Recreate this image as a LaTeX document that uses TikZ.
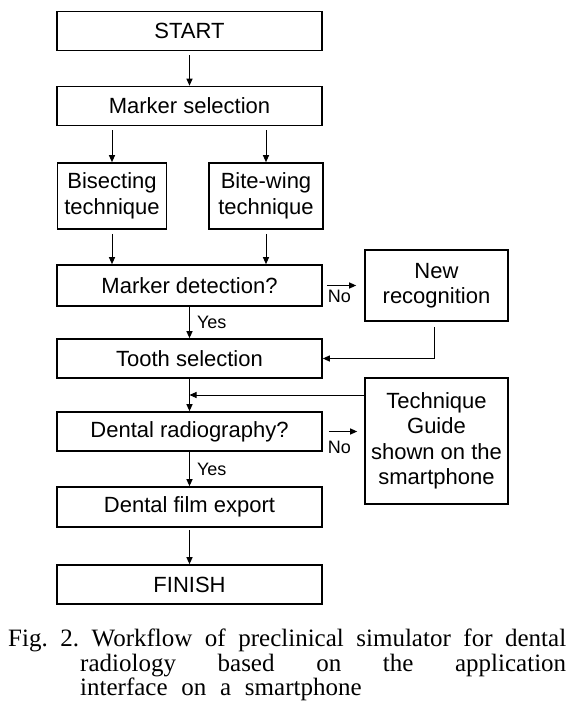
\documentclass[tikz,border=0pt]{standalone}
\usepackage{fontspec}
\setmainfont{Liberation Serif}
\setsansfont{Liberation Sans}
\usetikzlibrary{arrows.meta,calc}
\tikzset{
  stepbox/.style={draw, line width=1.6pt, inner sep=2pt, align=center,
    font=\sffamily\fontsize{22}{25.5}\selectfont},
  mainbox/.style={stepbox, minimum width=265pt, minimum height=39pt},
  flow/.style={line width=1pt, -{Triangle[length=7pt,width=6pt]}},
  answer/.style={font=\sffamily\fontsize{18}{20}\selectfont, inner sep=1pt}
}
\begin{document}
\begin{tikzpicture}[x=1pt, y=-1pt]
  \useasboundingbox (0,0) rectangle (587,712);
  % main column
  \node[mainbox] (start) at (189.5,31) {START};
  \node[mainbox] (msel) at (189.5,106) {Marker selection};
  \node[stepbox, minimum width=109pt, minimum height=66pt] (bisect) at (112,196)
    {Bisecting\\technique};
  \node[stepbox, minimum width=114pt, minimum height=66pt] (bitewing) at (266,196)
    {Bite-wing\\technique};
  \node[mainbox, minimum height=41pt] (mdet) at (189.5,285.5) {Marker detection?};
  \node[mainbox] (tooth) at (189.5,358.5) {Tooth selection};
  \node[mainbox] (radio) at (189.5,431.5) {Dental radiography?};
  \node[mainbox, minimum height=40pt] (export) at (189.5,507) {Dental film export};
  \node[mainbox] (finish) at (189.5,584.5) {FINISH};
  % side boxes
  \node[stepbox, minimum width=143pt, minimum height=71pt] (newrec) at (436.5,285.5)
    {New\\recognition};
  \node[stepbox, minimum width=143pt, minimum height=126pt] (guide) at (436.5,441)
    {Technique\\Guide\\shown on the\\smartphone};
  \coordinate (merge) at ($(tooth.south)!0.5!(radio.north)$);

  % connectors
  \draw[flow, shorten <=4pt] (start) -- (msel);
  \draw[flow, shorten <=4pt] (msel.south -| bisect) -- (bisect);
  \draw[flow, shorten <=4pt] (msel.south -| bitewing) -- (bitewing);
  \draw[flow, shorten <=4pt] (bisect) -- (mdet.north -| bisect);
  \draw[flow, shorten <=4pt] (bitewing) -- (mdet.north -| bitewing);
  \draw[flow, shorten <=4pt, shorten >=8pt] (mdet.east) -- (newrec.west)
    node[answer, pos=0.4, below=3pt] {No};
  \draw[flow] (mdet) -- (tooth) node[answer, midway, right=6pt] {Yes};
  \draw[flow, shorten <=5pt] (newrec.south -| 434,0) |- (tooth.east);
  \draw[flow] (tooth) -- (radio);
  \draw[flow] (guide.west |- merge) -- (merge);
  \draw[flow, shorten <=6pt, shorten >=7pt] (radio.east) -- (guide.west |- radio.east)
    node[answer, pos=0.4, below=8pt] {No};
  \draw[flow] (radio) -- (export) node[answer, midway, right=6pt] {Yes};
  \draw[flow, shorten <=2pt] (export) -- (finish);

  % caption
  \node[anchor=north west, inner sep=0pt,
    font=\rmfamily\fontsize{25}{24.5}\selectfont] (caption) at (8,629)
    {\begin{minipage}[t]{558pt}\hyphenpenalty=10000\hangindent=72pt\hangafter=1
     Fig.~2.~Workflow of preclinical simulator for dental\linebreak
     radiology based on the application\linebreak
     interface\hspace{0.3em} on\hspace{0.3em} a\hspace{0.3em} smartphone
     \end{minipage}};
\end{tikzpicture}
\end{document}
